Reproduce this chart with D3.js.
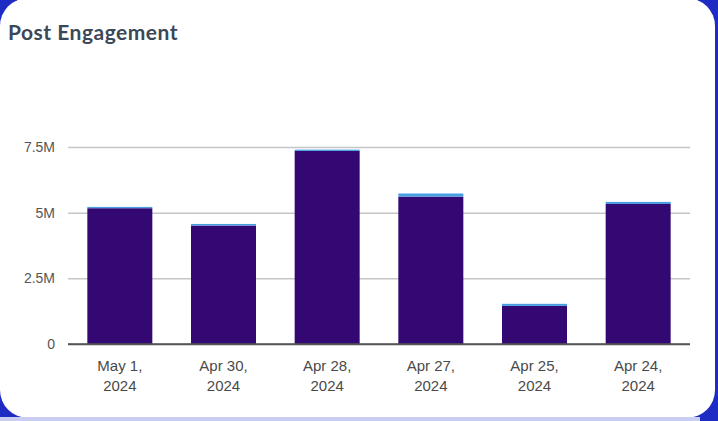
<!DOCTYPE html>
<html>
<head>
<meta charset="utf-8">
<script src="https://cdn.jsdelivr.net/npm/d3@7"></script>
<style>
  html, body { margin: 0; padding: 0; background: #1f2cc4; }
  svg { display: block; }
</style>
</head>
<body>
<div id="chart"></div>
<script>
// dates shown on the x axis (newest first, like the original)
var dates = ["May 1, 2024", "Apr 30, 2024", "Apr 28, 2024", "Apr 27, 2024", "Apr 25, 2024", "Apr 24, 2024"];
// main engagement part (dark purple)
var mainValues = [5170000, 4510000, 7350000, 5610000, 1450000, 5330000];
// small top part (light blue)
var topValues = [50000, 60000, 50000, 120000, 80000, 80000];
var yTicks = [0, 2500000, 5000000, 7500000];
var yTickLabels = ["0", "2.5M", "5M", "7.5M"];

var width = 718, height = 421;

var svg = d3.select("#chart")
  .append("svg")
  .attr("width", width)
  .attr("height", height);

// white card
svg.append("rect")
  .attr("x", 0).attr("y", -2)
  .attr("width", 715).attr("height", 420)
  .attr("rx", 28)
  .attr("fill", "#ffffff");
// thin light strip at the bottom
svg.append("rect")
  .attr("x", 0).attr("y", 417)
  .attr("width", 700).attr("height", 4)
  .attr("fill", "#c9cdf2");

svg.append("text")
  .attr("x", 8).attr("y", 40)
  .attr("font-family", "Lato")
  .attr("font-weight", "bold")
  .attr("font-size", "21px")
  .attr("letter-spacing", "0.5px")
  .attr("fill", "#3b4858")
  .text("Post Engagement");

var x = d3.scaleBand()
  .domain(dates)
  .range([68, 690])
  .paddingInner(0.373)
  .paddingOuter(0.1865);

var y = d3.scaleLinear()
  .domain([0, 7500000])
  .range([344, 147]);

// gridlines + labels via axis
var yAxis = d3.axisLeft(y)
  .tickValues(yTicks)
  .tickSize(-(690 - 68))
  .tickFormat(function(d, i) { return yTickLabels[i]; });

var gy = svg.append("g")
  .attr("transform", "translate(68,0)")
  .call(yAxis);
gy.select(".domain").remove();
gy.selectAll(".tick line")
  .attr("stroke", function(d) { return d == 0 ? "#555" : "#c6c6c6"; })
  .attr("stroke-width", function(d) { return d == 0 ? 1.3 : 1.5; });
gy.selectAll(".tick text")
  .attr("x", -13)
  .attr("font-family", "Liberation Sans")
  .attr("font-size", "14px")
  .attr("fill", "#555");

var stacks = dates.map(function(d, i) {
  return {date: d, main: mainValues[i], top: topValues[i]};
});

var g = svg.selectAll(".bar")
  .data(stacks)
  .enter()
  .append("g")
  .attr("class", "bar");

g.append("rect")
  .attr("x", function(d) { return x(d.date); })
  .attr("width", x.bandwidth())
  .attr("y", function(d) { return y(d.main); })
  .attr("height", function(d) { return y(0) - y(d.main); })
  .attr("fill", "#340872");

g.append("rect")
  .attr("x", function(d) { return x(d.date); })
  .attr("width", x.bandwidth())
  .attr("y", function(d) { return y(d.main + d.top); })
  .attr("height", function(d) { return y(d.main) - y(d.main + d.top); })
  .attr("fill", "#4a9de0");

// baseline on top of bars
svg.append("line")
  .attr("x1", 68).attr("x2", 690)
  .attr("y1", y(0)).attr("y2", y(0))
  .attr("stroke", "#555").attr("stroke-width", 1.3);

// two line date labels
var xl = svg.selectAll(".xlab")
  .data(dates)
  .enter()
  .append("text")
  .attr("class", "xlab")
  .attr("text-anchor", "middle")
  .attr("font-family", "Liberation Sans")
  .attr("font-size", "15px")
  .attr("fill", "#4a4a4a");

xl.append("tspan")
  .attr("x", function(d) { return x(d) + x.bandwidth() / 2; })
  .attr("y", 371)
  .text(function(d) { return d.split(" ").slice(0, 2).join(" "); });
xl.append("tspan")
  .attr("x", function(d) { return x(d) + x.bandwidth() / 2; })
  .attr("y", 391)
  .text(function(d) { return d.split(" ")[2]; });
</script>
</body>
</html>
